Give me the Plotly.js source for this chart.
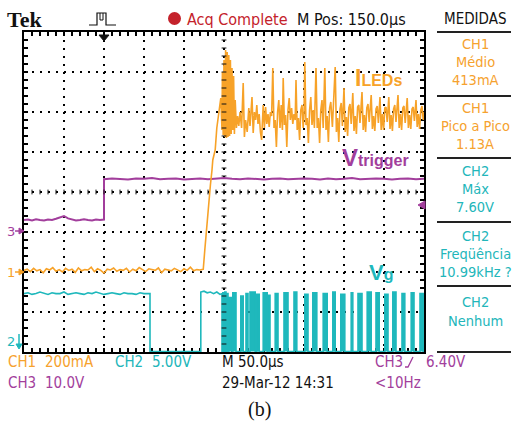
<!DOCTYPE html>
<html><head><meta charset="utf-8">
<script src="https://cdn.plot.ly/plotly-3.0.1.min.js"></script>
<style>html,body{margin:0;padding:0;background:#fff;} #chart{width:512px;height:423px;}</style>
</head><body><div id="chart"></div>
<script>
// ---------- Scope settings ----------
const TIME_PER_DIV_US = 50;           // M 50.0us
const CH1_MA_PER_DIV = 200;           // CH1 200mA
const CH1_GROUND_DIV = -2;            // "1 ->" marker
const CH2_V_PER_DIV = 5;              // CH2 5.00V
const CH2_GROUND_DIV = -4;            // "2 v" marker (at bottom edge)
const CH3_V_PER_DIV = 10;             // CH3 10.0V
const CH3_GROUND_DIV = -1;            // "3 ->" marker

// ---------- CH1 : I_LEDs (mA) ----------
const ch1FlatStepUs = 4;
const ch1FlatMA = [8,14,2,18,6,12,-4,16,10,22,4,12,0,18,8,14,-2,20,6,12,10,24,2,16,8,-6,14,10,20,4,12,8,18,0,14,6,22,10,2,16,12,8,20,-4,14,10,6,18,12,2,16,8,24,6,12,10,14];
const ch1RiseT  = [224,226,229,231,233,235,236,239,240,241,244,246];
const ch1RiseMA = [10,110,250,385,435,510,560,610,660,720,810,870];
const ch1SpikeT  = [247.5,248,249,250,251,252,253,254,255,256,257,258,259,260,261,262,263];
const ch1SpikeMA = [710,1000,685,1060,675,1110,670,1100,675,1085,680,1060,690,1020,710,980,690];
const ch1OscT = [264,265.5,267,268.5,270,272,274,275.5,277,279,
  281,282.5,285,286.5,288,289.5,291,292.5,294,295.5,
  297,299,300.5,302,303.5,305,306.5,308,309.5,311,
  312.5,314,315.5,317,318.5,320,321.5,323,324,325.5,
  327,328.5,330,331.5,333,334.5,336,337.5,339,340,
  341.5,343,344.5,346,347.5,349,350,351,352.5,354,
  355.5,357,358.5,360,361.5,363,
  365,366.5,368,369.5,371,372.5,374,
  376,377.5,379,380.5,382,383.5,385.5,
  389,390.5,392,393.5,395,396.5,398,
  400,401.5,403,404.5,406,407.5,409,
  411,412.5,414,415.5,417,418.5,420,
  422.5,424,425.5,427,428.5,430,431.5,
  434,435.5,437,438.5,440,441.5,443,
  445,446.5,448,449.5,451,452.5,454,
  456,457.5,459,460.5,462,463.5,465,
  467.5,469,470.5,472,473.5,475,476.5,
  479,480.5,482,483.5,485,486.5,488,
  490,491.5,493,494.5,496,497.5,499,500];
const ch1OscMA = [860,720,780,730,800,720,945,675,760,700,
  820,730,875,695,800,760,835,740,790,700,
  660,835,720,825,740,790,725,800,780,1020,
  720,760,625,800,860,720,835,710,970,735,
  785,625,810,870,760,820,740,790,760,960,
  710,770,660,810,835,720,785,1050,735,770,
  645,810,875,735,810,720,
  1020,720,770,645,810,860,720,
  1020,710,780,650,820,850,725,
  1025,700,770,650,815,845,730,
  920,700,775,680,820,840,740,
  895,705,780,690,825,835,745,
  900,710,785,700,820,840,750,
  885,715,780,705,815,830,745,
  875,710,790,710,820,825,750,
  875,715,785,705,815,835,750,
  885,720,790,710,820,830,745,
  870,720,785,715,815,825,755,
  860,725,790,715,810,830,760,800];

// ---------- CH3 : V_trigger (V) ----------
const ch3LowStepUs = 5;
const ch3LowV = [3.0,3.1,2.9,3.2,3.0,2.9,3.1,3.0,3.3,3.6,4.0,3.4,3.1,2.9,3.0,3.2,3.0,2.9,3.1,3.0,3.1];
const ch3StepUs = 100;
const ch3HighStepUs = 10;
const ch3HighV = [13.2,13.4,13.3,13.1,13.4,13.3,13.5,13.2,13.3,13.4,13.1,13.3,13.4,13.2,13.3,13.5,13.3,13.2,13.4,13.3,13.1,13.3,13.4,13.2,13.3,13.4,13.3,13.1,13.4,13.2,13.3,13.5,13.2,13.3,13.4,13.3,13.1,13.3,13.4,13.2,13.3];

// ---------- CH2 : V_g (V) ----------
const ch2HighAStepUs = 5;
const ch2HighAV = [7.3,7.4,7.2,7.3,7.5,7.3,7.2,7.4,7.3,7.3,7.5,7.2,7.3,7.4,7.3,7.2,7.4,7.3,7.5,7.3,7.2,7.3,7.4,7.3,7.2,7.4,7.3,7.3,7.2,7.4,7.3,7.3];
const ch2FallAUs = 157.5;
const ch2RiseBUs = 221;
const ch2HighBT = [221,225,229,233,237,241,245,247.5];
const ch2HighBV = [7.5,7.6,7.4,7.5,7.3,7.5,7.2,7.3];
const ch2PulseStartUs = [248.5,251,253.5,256,261,271,277.5,282.5,291,299,305,314,325,337.5,351,361,374,386,396,409,417.5,429,440,451,461,472.5,484,495];
const ch2PulseEndUs   = [250,252.5,255,260,265,274,280,289,294,304,307.5,317.5,330,341,355,366,379,389,401,411,422.5,434,444,455,465,476,487.5,499];
const ch2PulseTopV    = [7.4,7.5,7.3,6.8,7.4,7.0,7.3,7.5,7.2,7.4,7.1,7.3,7.4,7.5,7.2,7.4,7.3,7.5,7.2,7.4,7.3,7.5,7.4,7.2,7.5,7.3,7.4,7.3];
const ch2LowV = 0.05;

// ---------- build traces ----------
const ch1Div = v => CH1_GROUND_DIV + v / CH1_MA_PER_DIV;
const ch2Div = v => CH2_GROUND_DIV + v / CH2_V_PER_DIV;
const ch3Div = v => CH3_GROUND_DIV + v / CH3_V_PER_DIV;

const c1x = [], c1y = [];
ch1FlatMA.forEach((v, i) => { c1x.push(i * ch1FlatStepUs); c1y.push(ch1Div(v)); });
[[ch1RiseT, ch1RiseMA], [ch1SpikeT, ch1SpikeMA], [ch1OscT, ch1OscMA]].forEach(([T, V]) => {
  T.forEach((t, i) => { c1x.push(t); c1y.push(ch1Div(V[i])); });
});

const c3x = [], c3y = [];
ch3LowV.forEach((v, i) => { c3x.push(i * ch3LowStepUs); c3y.push(ch3Div(v)); });
ch3HighV.forEach((v, i) => { c3x.push(ch3StepUs + i * ch3HighStepUs); c3y.push(ch3Div(v)); });

const c2x = [], c2y = [];
ch2HighAV.forEach((v, i) => { c2x.push(i * ch2HighAStepUs); c2y.push(ch2Div(v)); });
c2x.push(ch2FallAUs, ch2FallAUs, ch2RiseBUs); c2y.push(ch2Div(ch2HighAV[ch2HighAV.length-1]), ch2Div(ch2LowV), ch2Div(ch2LowV));
ch2HighBT.forEach((t, i) => { c2x.push(t); c2y.push(ch2Div(ch2HighBV[i])); });
c2x.push(ch2HighBT[ch2HighBT.length-1]); c2y.push(ch2Div(ch2LowV));
const pfx = [], pfy = [];
ch2PulseStartUs.forEach((s, i) => {
  const e = ch2PulseEndUs[i], top = ch2Div(ch2PulseTopV[i]), low = ch2Div(ch2LowV);
  c2x.push(s, s, e, e); c2y.push(low, top, top, low);
  pfx.push(s, s, e, e, s, null); pfy.push(low, top, top, low, low, null);
});
c2x.push(10 * TIME_PER_DIV_US); c2y.push(ch2Div(ch2LowV));

const ORANGE = '#f7a228', CYAN = '#1fb8bc', PURPLE = '#a23e9c', RED = '#c4222b';

const traces = [
  {x: pfx, y: pfy, type: 'scatter', mode: 'lines', fill: 'toself', fillcolor: CYAN, line: {width: 0, color: CYAN}, hoverinfo: 'skip'},
  {x: c2x, y: c2y, type: 'scatter', mode: 'lines', line: {color: CYAN, width: 1.6}, cliponaxis: false, hoverinfo: 'skip'},
  {x: c3x, y: c3y, type: 'scatter', mode: 'lines', line: {color: PURPLE, width: 2}, hoverinfo: 'skip'},
  {x: c1x, y: c1y, type: 'scatter', mode: 'lines', line: {color: ORANGE, width: 1.6}, hoverinfo: 'skip'}
];

// ---------- page geometry helpers (pixels -> paper) ----------
const L = 24, T0 = 32, W = 400, H = 320;
const px = x => (x - L) / W;
const py = y => (T0 + H - y) / H;
const path = pts => pts.map((p, i) => (i ? 'L' : 'M') + px(p[0]).toFixed(4) + ',' + py(p[1]).toFixed(4)).join(' ');

const FONT = "'Liberation Sans Narrow', 'Arial Narrow', 'DejaVu Sans Condensed', sans-serif";
const ann = [];
function txt(text, x, y, color, size, xanchor, family) {
  ann.push({text, xref: 'paper', yref: 'paper', x: px(x), y: py(y), xanchor: xanchor || 'left', yanchor: 'middle',
    showarrow: false, borderpad: 0, font: {family: family || FONT, size, color}});
}

// header
txt('<b>Tek</b>', 6, 19, '#111', 22, 'left', "'Liberation Serif', serif");
txt('Acq Complete', 186, 19, RED, 16);
txt('M Pos: 150.0µs', 296, 19, '#111', 16);
txt('MEDIDAS', 475, 19, '#111', 15, 'center');
// measurement panel
const PO = '#f6a22e', PC = '#22b6ba', PS = 14.5;
txt('CH1', 475, 44, PO, PS, 'center'); txt('Médio', 475, 62, PO, PS, 'center'); txt('413mA', 475, 80, PO, PS, 'center');
txt('CH1', 475, 108, PO, PS, 'center'); txt('Pico a Pico', 475, 126, PO, PS, 'center'); txt('1.13A', 475, 144, PO, PS, 'center');
txt('CH2', 475, 171, PC, PS, 'center'); txt('Máx', 475, 189, PC, PS, 'center'); txt('7.60V', 475, 207, PC, PS, 'center');
txt('CH2', 475, 236, PC, PS, 'center'); txt('Freqüência', 475, 254, PC, PS, 'center'); txt('10.99kHz ?', 475, 272, PC, PS, 'center');
txt('CH2', 475, 302, PC, PS, 'center'); txt('Nenhum', 475, 321, PC, PS, 'center');
// bottom status lines
const BS = 15;
txt('CH1', 7, 362, PO, BS); txt('200mA', 44, 362, PO, BS);
txt('CH2', 114, 362, PC, BS); txt('5.00V', 151, 362, PC, BS);
txt('M 50.0µs', 221, 362, '#111', BS);
txt('CH3', 374, 362, PURPLE, BS); txt('6.40V', 425, 362, PURPLE, BS);
txt('CH3', 7, 383, PURPLE, BS); txt('10.0V', 44, 383, PURPLE, BS);
txt('29-Mar-12 14:31', 221, 383, '#111', BS);
txt('&lt;10Hz', 374, 383, PURPLE, BS);
txt('(b)', 259, 409, '#111', 20, 'center', "'Liberation Serif', serif");
// channel markers
txt('3', 11, 231, PURPLE, 13, 'center', "'DejaVu Sans', sans-serif");
txt('1', 11, 272, ORANGE, 13, 'center', "'DejaVu Sans', sans-serif");
txt('2', 11, 341, CYAN, 13, 'center', "'DejaVu Sans', sans-serif");
// in-plot labels
txt("<b>I</b><span style='font-size:16px'><b>LEDs</b></span>", 354, 78, ORANGE, 23, 'left', "'Liberation Sans', Arial, sans-serif");
txt("<b>V</b><span style='font-size:16px'><b>trigger</b></span>", 341, 157, PURPLE, 24, 'left', "'Liberation Sans', Arial, sans-serif");
txt("<b>V</b><span style='font-size:16px'><b>g</b></span>", 368, 272, CYAN, 22, 'left', "'Liberation Sans', Arial, sans-serif");

// ---------- shapes: graticule center ticks, panel rules, icons ----------
const shapes = [];
for (let k = 1; k < 50; k++) {
  shapes.push({type: 'line', xref: 'x', yref: 'y', x0: k * 10, x1: k * 10, y0: -0.06, y1: 0.06, line: {color: '#111', width: 1}});
}
for (let k = -19; k <= 19; k++) {
  shapes.push({type: 'line', xref: 'x', yref: 'y', x0: 247, x1: 253, y0: k * 0.2, y1: k * 0.2, line: {color: '#111', width: 1}});
}
[32, 96, 158, 222, 286, 352].forEach(y => shapes.push({type: 'line', xref: 'paper', yref: 'paper', x0: px(437), x1: px(511), y0: py(y), y1: py(y), line: {color: '#222', width: 2}}));
const P = (pts, color, fill, w) => shapes.push({type: 'path', xref: 'paper', yref: 'paper', path: path(pts) + (fill ? ' Z' : ''), line: {color, width: w || 1}, fillcolor: fill ? color : 'rgba(0,0,0,0)'});
// trigger-type pulse icon
P([[89,25],[97,25],[97,13],[106,13],[106,25],[116,25]], '#111', false, 1.2);
P([[100,13],[100,20],[103,20],[103,13]], '#111', false, 1);
// trigger position marker
P([[99,35],[109,35],[104,41]], '#111', true);
// channel ground arrows
P([[15,231],[20,231]], PURPLE, false, 1.5); P([[19,228],[24,231],[19,234]], PURPLE, true);
P([[15,272],[20,272]], ORANGE, false, 1.5); P([[19,269],[24,272],[19,275]], ORANGE, true);
P([[19,334],[19,345]], CYAN, false, 1.5); P([[16,344],[22,344],[19,349]], CYAN, true);
// trigger level arrow (right)
P([[425,201],[418,205],[425,209]], PURPLE, true);
// rising-edge icon
P([[405,367],[408,367],[413,357]], PURPLE, false, 1.3);
// Acq dot
shapes.push({type: 'circle', xref: 'paper', yref: 'paper', x0: px(168), x1: px(181), y0: py(25), y1: py(12), line: {color: RED, width: 0}, fillcolor: RED});

const axisCommon = {showline: true, linecolor: '#000', linewidth: 2, mirror: 'ticks', ticks: 'inside', ticklen: 4, tickwidth: 1.5, tickcolor: '#000',
  showticklabels: false, zeroline: false, showgrid: true, gridcolor: '#000', gridwidth: 2, griddash: '2px,6px', layer: 'below traces', fixedrange: true};

const layout = {
  width: 512, height: 423,
  margin: {l: L, r: 512 - L - W, t: T0, b: 423 - T0 - H, pad: 0},
  paper_bgcolor: '#fff', plot_bgcolor: '#fff', showlegend: false,
  xaxis: Object.assign({}, axisCommon, {range: [0, 10 * TIME_PER_DIV_US], dtick: TIME_PER_DIV_US, tick0: 0,
    minor: {dtick: TIME_PER_DIV_US / 5, ticks: 'inside', ticklen: 4, tickwidth: 1.5, tickcolor: '#000', showgrid: false}}),
  yaxis: Object.assign({}, axisCommon, {range: [-4, 4], dtick: 1, tick0: 0,
    minor: {dtick: 0.2, ticks: 'inside', ticklen: 4, tickwidth: 1.5, tickcolor: '#000', showgrid: false}}),
  annotations: ann, shapes: shapes
};

Plotly.newPlot('chart', traces, layout, {displayModeBar: false, staticPlot: true});
</script></body></html>
